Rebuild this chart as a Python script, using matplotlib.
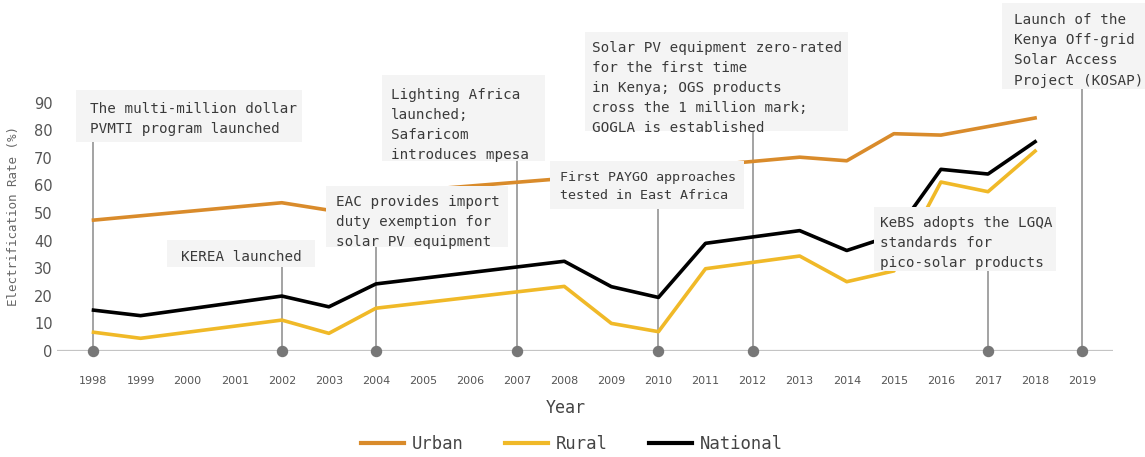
import matplotlib.pyplot as plt
from matplotlib.patches import Rectangle
from matplotlib.lines import Line2D

# electrification rates (%)
years = [1998, 1999, 2002, 2003, 2004, 2008, 2009, 2010, 2011, 2013, 2014, 2015, 2016, 2017, 2018]
national = [14.8, 12.8, 19.9, 16.0, 24.3, 32.5, 23.3, 19.4, 39.0, 43.6, 36.4, 42.0, 65.8, 64.1, 75.8]
rural = [6.8, 4.6, 11.2, 6.4, 15.5, 23.4, 10.0, 7.0, 29.8, 34.4, 25.1, 29.0, 61.2, 57.7, 72.4]

urban_years = [1998, 2002, 2003, 2004, 2008, 2013, 2014, 2015, 2016, 2017, 2018]
urban = [47.4, 53.7, 51.0, 57.0, 62.5, 70.2, 68.9, 78.7, 78.2, 81.3, 84.4]

tick_years = list(range(1998, 2020))

# timeline events
event_years = [1998, 2002, 2004, 2007, 2010, 2012, 2017, 2019]
event_labels = [
    "The multi-million dollar\nPVMTI program launched",
    "KEREA launched",
    "EAC provides import\nduty exemption for\nsolar PV equipment",
    "Lighting Africa\nlaunched;\nSafaricom\nintroduces mpesa",
    "First PAYGO approaches\ntested in East Africa",
    "Solar PV equipment zero-rated\nfor the first time\nin Kenya; OGS products\ncross the 1 million mark;\nGOGLA is established",
    "KeBS adopts the LGQA\nstandards for\npico-solar products",
    "Launch of the\nKenya Off-grid\nSolar Access\nProject (KOSAP)",
]
# box extents: left/right in years, top/bottom in %
box_left = [1997.63, 1999.56, 2002.94, 2004.13, 2007.70, 2008.44, 2014.58, 2017.30]
box_right = [2002.43, 2002.70, 2006.80, 2007.59, 2011.82, 2014.03, 2018.44, 2020.45]
box_top = [94.5, 40.2, 59.8, 100.0, 68.9, 115.4, 52.2, 125.9]
box_bottom = [75.7, 30.4, 37.6, 68.9, 51.4, 79.8, 29.0, 94.8]
# text inset from the box corner, in pixels
text_inset = [(14, 12), (14, 10), (10, 9), (9, 13), (10, 10), (7, 8.5), (6, 9.5), (12, 10)]
text_size = [10.25, 10.25, 10.25, 10.25, 9.6, 10.25, 10.25, 10.25]

mono = "DejaVu Sans Mono"
urban_color = "#d98b2b"
rural_color = "#f0b928"
national_color = "#000000"

fig = plt.figure(figsize=(11.45, 4.57), dpi=100)
ax = fig.add_axes([57 / 1145, 106 / 457, 1056 / 1145, 351 / 457])
ax.set_xlim(1997.225, 2019.655)
ax.set_ylim(0, 127.13)

# baseline
ax.axhline(0, color="#c4c4c4", lw=1.6, zorder=1)

# data lines
ax.plot(urban_years, urban, color=urban_color, lw=2.6, zorder=2)
ax.plot(years, rural, color=rural_color, lw=2.6, zorder=2)
ax.plot(years, national, color=national_color, lw=2.6, zorder=2)

# event markers, stems, boxes and texts
for i, yr in enumerate(event_years):
    ax.plot([yr, yr], [0, box_bottom[i]], color="#8a8a8a", lw=1.1,
            zorder=1.5, clip_on=False)
    ax.add_patch(Rectangle((box_left[i], box_bottom[i]),
                           box_right[i] - box_left[i],
                           box_top[i] - box_bottom[i],
                           facecolor="#f4f4f4", edgecolor="none",
                           zorder=4, clip_on=False))
    ax.annotate(event_labels[i], xy=(box_left[i], box_top[i]), xycoords="data",
                xytext=(text_inset[i][0], -text_inset[i][1]),
                textcoords="offset pixels", ha="left", va="top",
                family=mono, fontsize=text_size[i], color="#3a3a3a",
                linespacing=1.55, zorder=5, annotation_clip=False)

ax.scatter(event_years, [0] * len(event_years), s=52, color="#777777",
           zorder=3, clip_on=False)

# axes styling
for side in ["top", "right", "left", "bottom"]:
    ax.spines[side].set_visible(False)
ax.set_yticks(range(0, 100, 10))
ax.set_xticks(tick_years)
ax.set_xticklabels([str(y) for y in tick_years])
ax.tick_params(axis="y", length=0, pad=3, labelsize=10.5, labelcolor="#555555")
ax.tick_params(axis="x", length=0, pad=18, labelsize=8, labelcolor="#555555")

fig.text(566 / 1145, 1 - 408 / 457, "Year", ha="center", va="center",
         family=mono, fontsize=12, color="#444444")
fig.text(14 / 1145, 1 - 216 / 457, "Electrification Rate (%)", rotation=90,
         ha="center", va="center", family=mono, fontsize=9, color="#666666")

handles = [
    Line2D([], [], color=urban_color, lw=3),
    Line2D([], [], color=rural_color, lw=3),
    Line2D([], [], color=national_color, lw=3),
]
fig.legend(handles, ["Urban", "Rural", "National"], loc="center",
           bbox_to_anchor=(572 / 1145, 13 / 457), ncol=3, frameon=False,
           prop={"family": mono, "size": 12.4}, labelcolor="#444444",
           handlelength=2.5, handletextpad=0.45, columnspacing=2.4)

fig.savefig("out.png", dpi=100)
